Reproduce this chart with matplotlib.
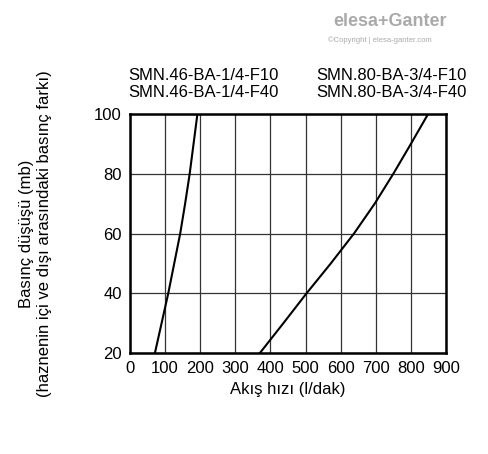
import numpy as np
import matplotlib.pyplot as plt

plt.rcParams['font.family'] = ['Liberation Sans', 'DejaVu Sans']

# ---------- Data ----------
flow_46 = [71, 90, 109, 126, 143, 157, 170, 181, 192]
drop_46 = [20, 30, 40, 50, 60, 70, 80, 90, 100]
flow_80 = [370, 437, 503, 572, 638, 697, 750, 800, 849]
drop_80 = [20, 30, 40, 50, 60, 70, 80, 90, 100]

fig = plt.figure(figsize=(4.88, 4.54), dpi=100)
ax = fig.add_axes([130 / 488, 1 - 353 / 454, 316 / 488, 239 / 454])

ax.plot(flow_46, drop_46, color="black", lw=1.5)
ax.plot(flow_80, drop_80, color="black", lw=1.5)

ax.set_xlim(0, 900)
ax.set_ylim(20, 100)
ax.set_xticks(range(0, 901, 100))
ax.set_yticks(range(20, 101, 20))
ax.grid(True, color="#333333", lw=0.9)
ax.tick_params(length=0, labelsize=12, pad=6)
for s in ax.spines.values():
    s.set_linewidth(1.8)

ax.set_xlabel("Akış hızı (l/dak)", fontsize=12)
ax.set_ylabel("Basınç düşüşü (mb)\n(haznenin içi ve dışı arasındaki basınç farkı)", fontsize=12,
              labelpad=30, linespacing=1.3)

fig.text(128 / 488, 1 - 84 / 454, "SMN.46-BA-1/4-F10\nSMN.46-BA-1/4-F40", fontsize=12, va="center", linespacing=1.2)
fig.text(316 / 488, 1 - 84 / 454, "SMN.80-BA-3/4-F10\nSMN.80-BA-3/4-F40", fontsize=12, va="center", linespacing=1.2)

fig.text(390 / 488, 1 - 26 / 454, "elesa+Ganter", fontsize=13, color="#aaaaaa", ha="center", fontweight="bold")
fig.text(380 / 488, 1 - 42 / 454, "©Copyright | elesa-ganter.com", fontsize=5.5, color="#aaaaaa", ha="center")

plt.savefig("out.png")
